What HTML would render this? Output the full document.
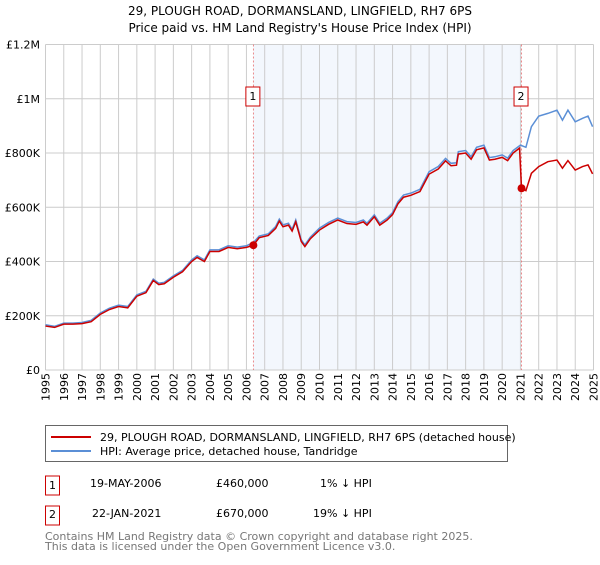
<!DOCTYPE html>
<html><head><meta charset="utf-8"><style>
body{margin:0;background:#fff;font-family:"Liberation Sans","DejaVu Sans",sans-serif;}
svg text{font-family:"DejaVu Sans","Liberation Sans",sans-serif;}
</style></head><body>
<svg id="c" width="600" height="560" xmlns="http://www.w3.org/2000/svg">
<text x="300" y="15" text-anchor="middle" font-size="12">29, PLOUGH ROAD, DORMANSLAND, LINGFIELD, RH7 6PS</text>
<text x="300" y="32" text-anchor="middle" font-size="12">Price paid vs. HM Land Registry's House Price Index (HPI)</text>
<g id="plot"></g>
<g>
<rect x="45.5" y="425.5" width="462" height="36" fill="#fff" stroke="#666"/>
<line x1="51" y1="437" x2="91" y2="437" stroke="#cc0000" stroke-width="2"/>
<text x="100" y="441" font-size="11">29, PLOUGH ROAD, DORMANSLAND, LINGFIELD, RH7 6PS (detached house)</text>
<line x1="51" y1="451" x2="91" y2="451" stroke="#5b8fd6" stroke-width="2"/>
<text x="100" y="455" font-size="11">HPI: Average price, detached house, Tandridge</text>
</g>
<g font-size="11">
<rect x="45.5" y="476" width="14" height="19" fill="#fff" stroke="#cc0000"/><text x="52.5" y="489" text-anchor="middle">1</text>
<text x="90" y="487">19-MAY-2006</text><text x="216" y="487">£460,000</text><text x="320" y="487">1% ↓ HPI</text>
<rect x="45.5" y="506" width="14" height="19" fill="#fff" stroke="#cc0000"/><text x="52.5" y="518" text-anchor="middle">2</text>
<text x="92" y="517">22-JAN-2021</text><text x="216" y="517">£670,000</text><text x="313" y="517">19% ↓ HPI</text>
</g>
<text x="45" y="540" font-size="11" fill="#777">Contains HM Land Registry data © Crown copyright and database right 2025.</text>
<text x="45" y="550" font-size="11" fill="#777">This data is licensed under the Open Government Licence v3.0.</text>
</svg>
<script>
const yTicks=[0,200,400,600,800,1000,1200];
const yTickLabels=["£0","£200K","£400K","£600K","£800K","£1M","£1.2M"];
const years=[1995,1996,1997,1998,1999,2000,2001,2002,2003,2004,2005,2006,2007,2008,2009,2010,2011,2012,2013,2014,2015,2016,2017,2018,2019,2020,2021,2022,2023,2024,2025];
const hpiDates=[1995,1995.5,1996,1996.5,1997,1997.5,1998,1998.5,1999,1999.5,2000,2000.5,2000.9,2001.2,2001.5,2002,2002.5,2003,2003.3,2003.7,2004,2004.5,2005,2005.5,2006,2006.4,2006.7,2007.2,2007.6,2007.8,2008,2008.3,2008.5,2008.7,2009,2009.2,2009.5,2010,2010.5,2011,2011.5,2012,2012.4,2012.6,2013,2013.3,2013.7,2014,2014.3,2014.6,2015,2015.5,2016,2016.5,2016.9,2017.2,2017.5,2017.6,2018,2018.3,2018.6,2019,2019.3,2019.6,2020,2020.3,2020.6,2021,2021.3,2021.6,2022,2022.5,2023,2023.3,2023.6,2024,2024.4,2024.7,2024.95];
const hpiValues=[167,161,173,173,175,183,210,228,239,234,277,290,335,320,323,347,367,406,421,406,443,443,458,453,458,471,494,502,529,556,535,541,519,553,480,461,490,523,544,560,547,544,553,541,572,541,560,580,621,645,652,666,731,750,780,762,764,805,809,786,821,829,783,786,793,781,809,829,821,897,936,946,958,921,958,915,928,936,897];
const priceDates=[1995,1995.5,1996,1996.5,1997,1997.5,1998,1998.5,1999,1999.5,2000,2000.5,2000.9,2001.2,2001.5,2002,2002.5,2003,2003.3,2003.7,2004,2004.5,2005,2005.5,2006,2006.38,2006.7,2007.2,2007.6,2007.8,2008,2008.3,2008.5,2008.7,2009,2009.2,2009.5,2010,2010.5,2011,2011.5,2012,2012.4,2012.6,2013,2013.3,2013.7,2014,2014.3,2014.6,2015,2015.5,2016,2016.5,2016.9,2017.2,2017.5,2017.6,2018,2018.3,2018.6,2019,2019.3,2019.6,2020,2020.3,2020.6,2020.95,2021.06,2021.3,2021.6,2022,2022.5,2023,2023.3,2023.6,2024,2024.4,2024.7,2024.95];
const priceValues=[162,157,169,169,171,178,205,223,234,229,272,285,330,315,318,342,362,400,415,400,437,437,452,447,452,460,488,496,522,549,528,534,512,546,474,455,484,516,537,553,540,537,546,534,565,534,553,573,613,637,644,658,722,741,771,753,755,796,800,777,812,819,774,777,784,772,800,818,670,661,725,750,768,774,744,772,737,750,756,723];
const sales=[{n:"1",d:2006.38,v:460},{n:"2",d:2021.06,v:670}];
const X0=45.5,X1=593.5,Y0=370,Y1=44.5;
const xs=t=>X0+(t-1995)/30*(X1-X0);
const ys=v=>Y0-v/1200*(Y0-Y1);
const NS="http://www.w3.org/2000/svg";
const g=document.getElementById('plot');
function mk(tag,attrs,parent){const e=document.createElementNS(NS,tag);for(const k in attrs)e.setAttribute(k,attrs[k]);(parent||g).appendChild(e);return e;}
const sh=mk('rect',{x:xs(sales[0].d),y:Y1,width:xs(sales[1].d)-xs(sales[0].d),height:Y0-Y1,fill:'#f3f7fd'});


years.forEach((yr,i)=>{
 const l=mk('line',{x1:xs(yr),x2:xs(yr),y1:Y1,y2:Y0,stroke:'#cccccc','stroke-width':1});
 
 
 const t=mk('text',{x:0,y:0,'font-size':11,'text-anchor':'end',transform:`translate(${xs(yr)+4},373) rotate(-90)`});
 t.textContent=yr;
 
 
});
yTicks.forEach((v,i)=>{
 const l=mk('line',{x1:X0,x2:X1,y1:ys(v),y2:ys(v),stroke:'#cccccc','stroke-width':1});
 
 
 const t=mk('text',{x:40,y:ys(v)+4,'font-size':11,'text-anchor':'end'});
 t.textContent=yTickLabels[i];
 
 
});
sales.forEach(s=>{
 const l=mk('line',{x1:xs(s.d),x2:xs(s.d),y1:Y1,y2:Y0,stroke:'#e87070','stroke-width':0.8,'stroke-dasharray':'2,2'});
 
 
});
const hp=mk('polyline',{points:hpiDates.map((d,i)=>xs(d)+','+ys(hpiValues[i])).join(' '),fill:'none',stroke:'#5b8fd6','stroke-width':1.5});


const pp=mk('polyline',{points:priceDates.map((d,i)=>xs(d)+','+ys(priceValues[i])).join(' '),fill:'none',stroke:'#cc0000','stroke-width':1.5});


sales.forEach(s=>{
 const c=mk('circle',{cx:xs(s.d),cy:ys(s.v),r:4,fill:'#cc0000'});
 
 
 const b=mk('rect',{x:xs(s.d)-7.5,y:87,width:14,height:19,fill:'#fff',stroke:'#cc0000'});
 
 
 const t=mk('text',{x:xs(s.d)-0.5,y:100,'font-size':11,'text-anchor':'middle'});
 t.textContent=s.n;
 
 
});
</script>
</body></html>
